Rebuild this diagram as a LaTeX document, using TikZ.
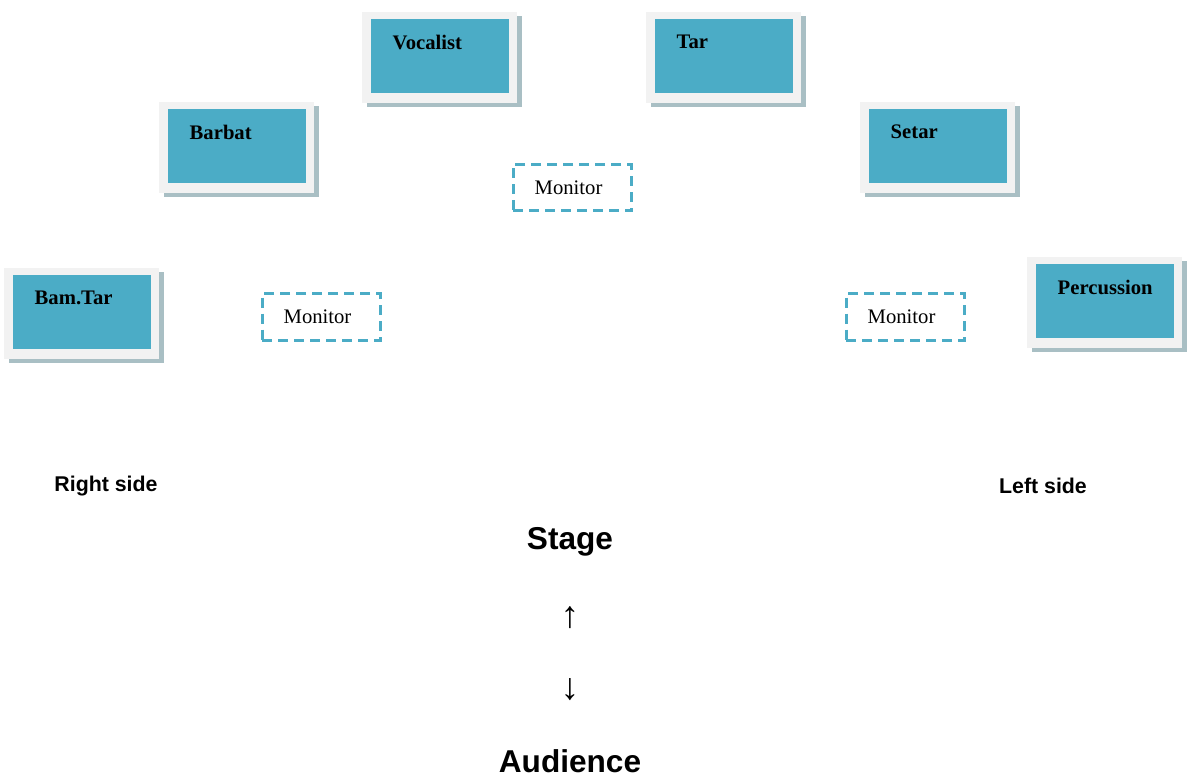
\documentclass[tikz,border=0pt]{standalone}
\usepackage{fontspec}
\setmainfont{Liberation Serif}
\newfontfamily\arialfont{Liberation Sans}
\usetikzlibrary{calc}

\definecolor{boxblue}{HTML}{4BACC6}
\definecolor{framegray}{HTML}{F2F2F2}
\definecolor{shadowgray}{HTML}{A9BFC4}

\tikzset{
  player/.style={fill=boxblue, minimum width=103.5pt, minimum height=55.5pt, inner sep=0pt, anchor=north west},
  monitor/.style={draw=boxblue, dash pattern=on 7.5pt off 4.5pt, line width=2.1pt, minimum width=89pt, minimum height=35pt, inner sep=0pt, font=\fontsize{15.5}{18}\selectfont},
  side/.style={font=\arialfont\bfseries\fontsize{16}{19}\selectfont},
  title/.style={font=\arialfont\bfseries\fontsize{23.7}{28}\selectfont, inner sep=1pt},
}

% player box: name, x, y (top left of the blue part), label
\newcommand{\player}[4]{%
  \fill[shadowgray] ($(#2,#3)+(-4,-3)$) rectangle ++(155,91);
  \fill[framegray] ($(#2,#3)+(-9,-7)$) rectangle ++(155,91);
  \node[player] (#1) at (#2,#3) {};
  \node[anchor=west, font=\bfseries\fontsize{15.5}{18}\selectfont] (#1-text) at ($(#1.north west)+(17,23)$) {#4};
}

\begin{document}
\begin{tikzpicture}[x=0.75pt, y=-0.75pt]

\useasboundingbox (0,0) rectangle (1187,778);

% Players
\player{vocalist}{371}{19}{Vocalist}
\player{tar}{655}{19}{Tar}
\player{barbat}{168}{109}{Barbat}
\player{setar}{869}{109}{Setar}
\player{bamtar}{13}{275}{Bam.Tar}
\player{percussion}{1036}{264}{Percussion}

% Monitors
\node[monitor] (mon-center) at (572.5,187.5) {\hspace*{-6pt}Monitor};
\node[monitor] (mon-right) at (321.5,317) {\hspace*{-6pt}Monitor};
\node[monitor] (mon-left) at (905.5,317) {\hspace*{-6pt}Monitor};

% Sides
\node[side] (right-side) at (106,486) {Right side};
\node[side] (left-side) at (1043,486) {Left side};

% Stage and audience
\node[title] (stage) at (570,542) {Stage};
\node[font=\fontsize{28}{32}\selectfont] (up) at (570,618) {↑};
\node[font=\fontsize{28}{32}\selectfont] (down) at (570,690) {↓};
\node[title] (audience) at (570,761) {Audience};

\end{tikzpicture}
\end{document}
